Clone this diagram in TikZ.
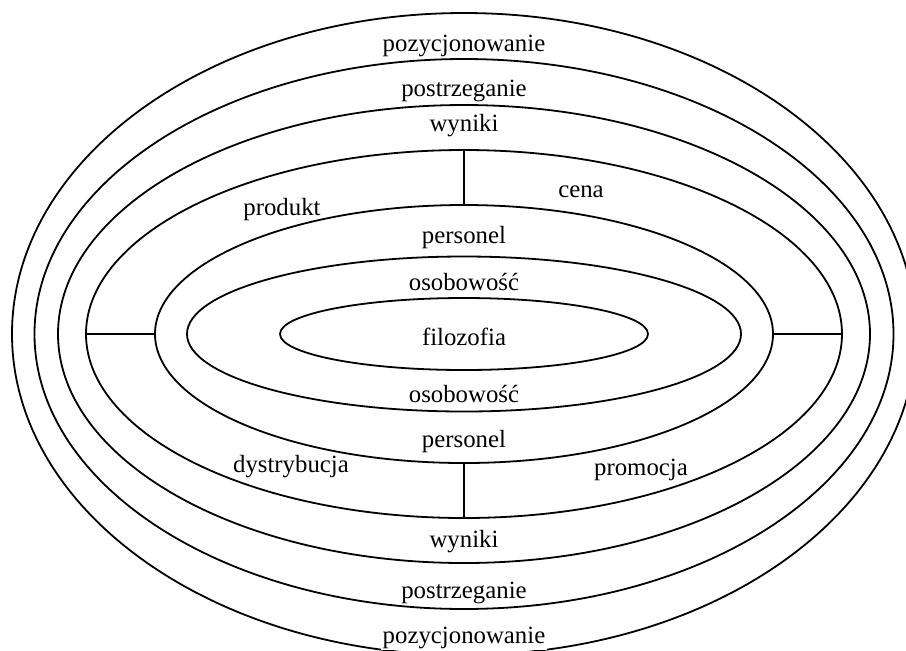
\documentclass[tikz,border=0pt]{standalone}
\usepackage{fontspec}
\setmainfont{Liberation Serif}
\usetikzlibrary{shapes.geometric}

\begin{document}
\begin{tikzpicture}[x=0.5pt,y=-0.5pt,line width=0.9pt,ring/.style={ellipse,draw,inner sep=0pt,outer sep=0pt},lbl/.style={anchor=base,inner sep=1pt,font=\fontsize{12.4}{14}\selectfont}]
    \useasboundingbox (0,0) rectangle (906,650);
    \clip (0,0) rectangle (906,650);
    \coordinate (C) at (464,334);
    % rings, outside in
    \node [ring, minimum width=452pt, minimum height=321pt] (poz) at (C) {};
    \node [ring, minimum width=429.5pt, minimum height=275pt] (pos) at (C) {};
    \node [ring, minimum width=406pt, minimum height=229pt] (wyn) at (C) {};
    \node [ring, minimum width=378pt, minimum height=184pt] (mix) at (C) {};
    \node [ring, minimum width=309pt, minimum height=129pt] (per) at (C) {};
    \node [ring, minimum width=277pt, minimum height=77.5pt] (oso) at (C) {};
    \node [ring, minimum width=184pt, minimum height=36pt] (fil) at (C) {};
    % spokes of the mix ring
    \draw (mix.north) -- (per.north);
    \draw (mix.south) -- (per.south);
    \draw (mix.west) -- (per.west);
    \draw (mix.east) -- (per.east);
    % labels
    \node [lbl] (pozN) at (464,51) {pozycjonowanie};
    \node [lbl] (posN) at (464,96) {postrzeganie};
    \node [lbl] (wynN) at (464,131) {wyniki};
    \node [lbl] (cena) at (581,197) {cena};
    \node [lbl] (prod) at (282,215) {produkt};
    \node [lbl] (perN) at (464,243) {personel};
    \node [lbl] (osoN) at (464,290) {osobowość};
    \node [lbl] (filo) at (464,345) {filozofia};
    \node [lbl] (osoS) at (464,402) {osobowość};
    \node [lbl] (perS) at (464,447) {personel};
    \node [lbl] (dyst) at (291,472) {dystrybucja};
    \node [lbl] (prom) at (641,475) {promocja};
    \node [lbl] (wynS) at (464,547) {wyniki};
    \node [lbl] (posS) at (464,598) {postrzeganie};
    \node [lbl, fill=white] (pozS) at (464,643) {pozycjonowanie};
\end{tikzpicture}
\end{document}
